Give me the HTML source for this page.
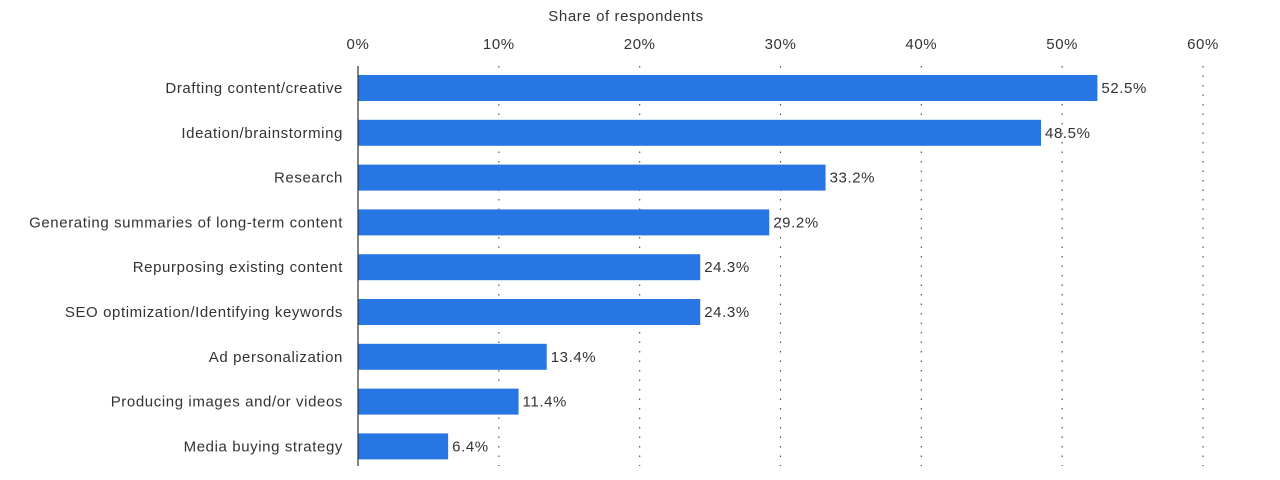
<!DOCTYPE html>
<html><head><meta charset="utf-8"><style>
body{margin:0;background:#fff;width:1280px;height:475px;overflow:hidden}
svg text{font-family:"Liberation Sans",sans-serif;fill:#333;letter-spacing:0.6px}
</style></head><body>
<svg id="chart" width="1280" height="475">
<text x="626" y="21" font-size="15" text-anchor="middle">Share of respondents</text>
<g id="grid"></g><g id="bars"></g>
<line x1="358" y1="66" x2="358" y2="466" stroke="#333" stroke-width="1.2"/>
</svg>
<script>
const categories=["Drafting content/creative","Ideation/brainstorming","Research","Generating summaries of long-term content","Repurposing existing content","SEO optimization/Identifying keywords","Ad personalization","Producing images and/or videos","Media buying strategy"];
const values=[52.5,48.5,33.2,29.2,24.3,24.3,13.4,11.4,6.4];
const ticks=[0,10,20,30,40,50,60];
const NS="http://www.w3.org/2000/svg";
const x=v=>358+v*(1203-358)/60;
const yc=i=>88+i*44.8;
function mk(t,a,p){const e=document.createElementNS(NS,t);for(const k in a)e.setAttribute(k,a[k]);p.appendChild(e);return e;}
const grid=document.getElementById('grid'),bars=document.getElementById('bars');
ticks.forEach(t=>{
  const l=mk('text',{x:x(t),y:49,'font-size':15,'text-anchor':'middle'},grid);l.textContent=t+'%';
  
  
  if(t>0){const g=mk('line',{x1:x(t),x2:x(t),y1:66,y2:466,stroke:'#555','stroke-width':1.2,'stroke-dasharray':'1.5,8'},grid);
  
  }
});
categories.forEach((c,i)=>{
  const r=mk('rect',{x:358,y:yc(i)-13,width:x(values[i])-358,height:26,fill:'#2876E3'},bars);
  
  
  const lab=mk('text',{x:343,y:yc(i)+5,'font-size':15,'text-anchor':'end'},bars);lab.textContent=c;
  
  
  const v=mk('text',{x:x(values[i])+4,y:yc(i)+5,'font-size':15},bars);v.textContent=values[i].toFixed(1)+'%';
  
  
});
</script>
</body></html>
